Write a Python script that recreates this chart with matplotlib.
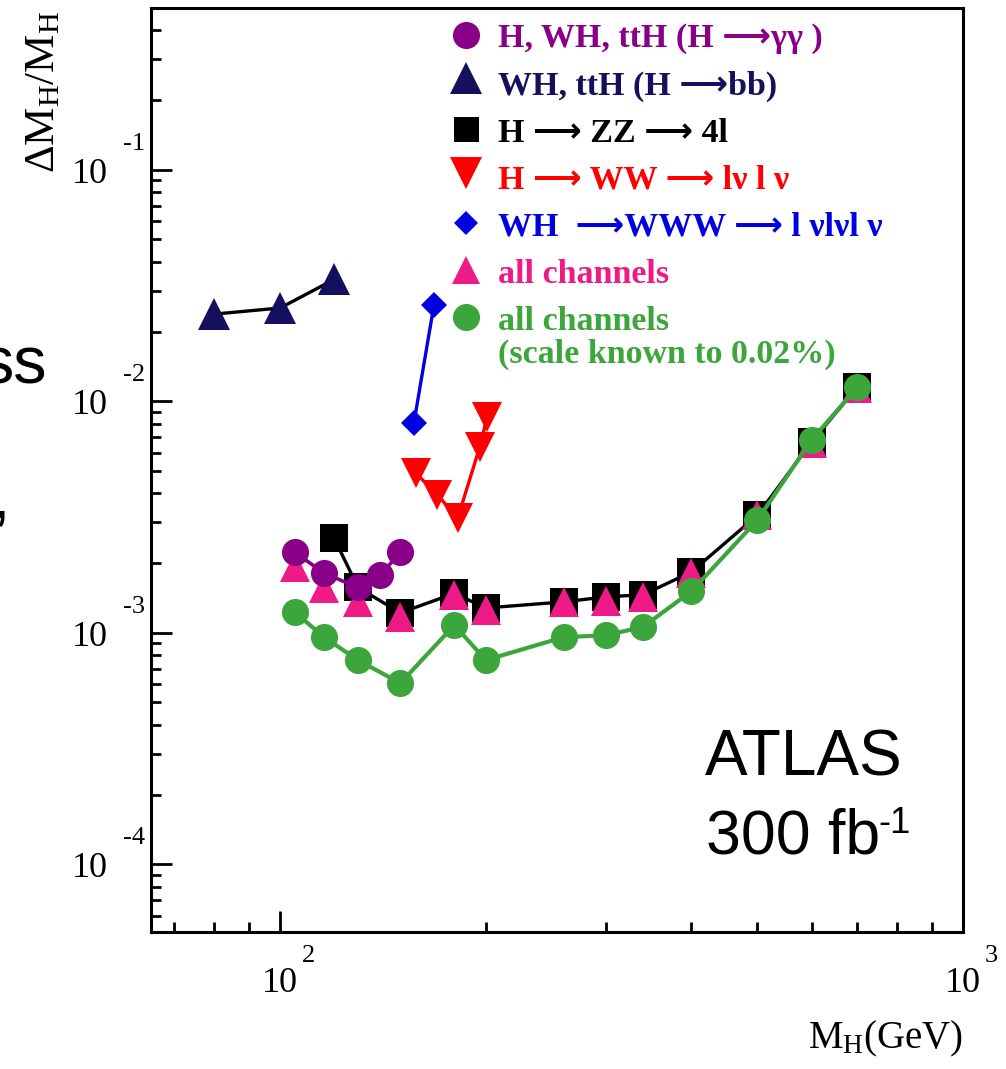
import matplotlib
matplotlib.use("Agg")
import matplotlib.pyplot as plt
import matplotlib.transforms as mtransforms
from matplotlib.ticker import LogLocator, NullFormatter

plt.rcParams["mathtext.fontset"] = "custom"
plt.rcParams["mathtext.rm"] = "Liberation Serif"
plt.rcParams["mathtext.it"] = "Liberation Serif:italic"
plt.rcParams["mathtext.bf"] = "Liberation Serif:bold"

# ---- mass resolution dM/M versus Higgs mass (GeV), ATLAS 300 fb^-1 ----
gg_mass = [105, 116, 130, 140, 150]
gg_res = [0.00223, 0.00181, 0.00157, 0.00177, 0.00223]

bb_mass = [80, 100, 120]
bb_res = [0.0238, 0.0253, 0.0336]

zz_mass = [120, 130, 150, 180, 200, 260, 300, 340, 400, 500, 600, 700]
zz_res = [0.00256, 0.00157, 0.00122, 0.00148, 0.00128, 0.00136, 0.00143,
          0.00146, 0.00183, 0.00322, 0.00667, 0.0115]

ww_mass = [158, 170, 182, 196, 201]
ww_res = [0.0049, 0.00394, 0.00313, 0.00634, 0.00855]

www_mass = [157, 168]
www_res = [0.00806, 0.0261]

all_mass = [105, 116, 130, 150, 180, 200, 260, 300, 340, 400, 500, 600, 700]
all_res = [0.00192, 0.00156, 0.00136, 0.00117, 0.00146, 0.00125, 0.00136,
           0.00137, 0.00143, 0.00181, 0.00322, 0.0066, 0.0114]

scale_res = [0.00123, 0.000957, 0.000762, 0.000606, 0.00108, 0.000762,
             0.000957, 0.000976, 0.00106, 0.00151, 0.00307, 0.0068, 0.0115]

y_decades = [-1, -2, -3, -4]
x_decades = [2, 3]

ARROW = "\u27f6"
legend_labels = [
    f"H, WH, ttH (H {ARROW}\u03b3\u03b3 )",
    f"WH, ttH (H {ARROW}bb)",
    f"H {ARROW} ZZ {ARROW} 4l",
    f"H {ARROW} WW {ARROW} l\u03bd l \u03bd",
    f"WH  {ARROW}WWW {ARROW} l \u03bdl\u03bdl \u03bd",
    "all channels",
    "all channels",
]

PURPLE = "#880088"
NAVY = "#14105e"
RED = "#ff0000"
BLUE = "#0000e0"
PINK = "#ee1a86"
GREEN = "#3ca63c"
BLACK = "#000000"

W, H, DPI = 1006, 1069, 100
fig = plt.figure(figsize=(W / DPI, H / DPI), dpi=DPI)
L, R, T, B = 151, 963, 8, 932
ax = fig.add_axes([L / W, 1 - B / H, (R - L) / W, (B - T) / H])
ax.set_xscale("log")
ax.set_yscale("log")
ax.set_xlim(64.7, 1000)
ax.set_ylim(5.1e-5, 0.5)


def fx(x):
    return x / W


def fy(y):
    return 1 - y / H


# axes frame and ticks
for s in ax.spines.values():
    s.set_linewidth(2.2)
for axis in (ax.xaxis, ax.yaxis):
    axis.set_major_locator(LogLocator(base=10, numticks=12))
    axis.set_minor_locator(LogLocator(base=10, subs=range(2, 10), numticks=30))
    axis.set_minor_formatter(NullFormatter())
ax.tick_params(which="both", direction="in", top=False, right=False,
               labelbottom=False, labelleft=False, width=2.0, color="black")
ax.tick_params(which="major", length=15)
ax.tick_params(which="minor", length=7.5)


def shifted(trans, dx, dy):
    return mtransforms.offset_copy(trans, fig=fig, x=dx, y=dy, units="dots")


serif = "Liberation Serif"
ytr = ax.get_yaxis_transform()
for e in y_decades:
    ax.text(0, 10.0 ** e, "10", transform=shifted(ytr, -43, -13),
            ha="right", va="baseline", fontsize=26, family=serif)
    ax.text(0, 10.0 ** e, str(e), transform=shifted(ytr, -28, 20),
            ha="left", va="baseline", fontsize=19, family=serif)
xtr = ax.get_xaxis_transform()
for e in x_decades:
    ax.text(10.0 ** e, 0, "10", transform=shifted(xtr, 0, -60),
            ha="center", va="baseline", fontsize=26, family=serif,
            clip_on=False)
    ax.text(10.0 ** e, 0, str(e), transform=shifted(xtr, 22, -30),
            ha="left", va="baseline", fontsize=19, family=serif,
            clip_on=False)

# axis titles
fig.text(fx(42), fy(11), r"$\Delta\mathrm{M}_{\mathrm{H}}/\mathrm{M}_{\mathrm{H}}$",
         rotation=90, ha="center", va="top", fontsize=31)
fig.text(fx(963), fy(1048), r"$\mathrm{M}_{\mathrm{H}}$(GeV)", ha="right",
         va="baseline", fontsize=28, family=serif)

# data series
ax.plot(bb_mass, bb_res, color=BLACK, lw=2.4, zorder=2)
ax.plot(bb_mass, bb_res, ls="none", marker="^", ms=23, mew=0, color=NAVY, zorder=3)

ax.plot(zz_mass, zz_res, color=BLACK, lw=2.4, zorder=2)
ax.plot(zz_mass, zz_res, ls="none", marker="s", ms=20, mew=0, color=BLACK, zorder=3)

ax.plot(all_mass, all_res, ls="none", marker="^", ms=21, mew=0, color=PINK, zorder=4)

ax.plot(gg_mass, gg_res, color=PURPLE, lw=2.6, marker="o", ms=19.5, mew=0, zorder=5)

ax.plot(ww_mass, ww_res, color=RED, lw=2.4, marker="v", ms=22, mew=0, zorder=5)

ax.plot(www_mass, www_res, color=BLUE, lw=2.4, marker="D", ms=13.7, mew=0, zorder=5)

ax.plot(all_mass, scale_res, color=GREEN, lw=3.0, marker="o", ms=19.5, mew=0, zorder=6)

# legend block
leg_styles = [
    ("o", 19.5, PURPLE),
    ("^", 23, NAVY),
    ("s", 18, BLACK),
    ("v", 23, RED),
    ("D", 12.7, BLUE),
    ("^", 19.5, PINK),
    ("o", 19.5, GREEN),
]
leg_font = ["Liberation Serif", "DejaVu Sans"]
marker_y = [35, 78, 129, 173, 223, 270, 317]
text_base = [47, 95, 142, 188, 235, 283, 330]
for (mk, ms, col), my, tb, lab in zip(leg_styles, marker_y, text_base, legend_labels):
    fig.lines.append(plt.Line2D([fx(466)], [fy(my)], transform=fig.transFigure,
                                ls="none", marker=mk, ms=ms, mew=0, color=col,
                                zorder=10))
    fig.text(fx(498), fy(tb), lab, ha="left", va="baseline", fontsize=24.5,
             family=leg_font, weight="bold", color=col, zorder=10)
fig.text(fx(498), fy(363), "(scale known to 0.02%)", ha="left", va="baseline",
         fontsize=24.5, family=serif, weight="bold", color=GREEN, zorder=10)

# experiment and luminosity
sans = "Liberation Sans"
fig.text(fx(705), fy(775), "ATLAS", ha="left", va="baseline", fontsize=46,
         family=sans)
fig.text(fx(706), fy(853), "300 fb", ha="left", va="baseline", fontsize=45,
         family=sans)
fig.text(fx(878), fy(833), "-1", ha="left", va="baseline", fontsize=26,
         family=sans)

# neighbouring slide text at the left edge
fig.text(fx(47), fy(383), "ss", ha="right", va="baseline", fontsize=48,
         family=sans)
fig.text(fx(10), fy(518), ",", ha="right", va="baseline", fontsize=48,
         family=sans)

fig.savefig("out.png", dpi=DPI)
